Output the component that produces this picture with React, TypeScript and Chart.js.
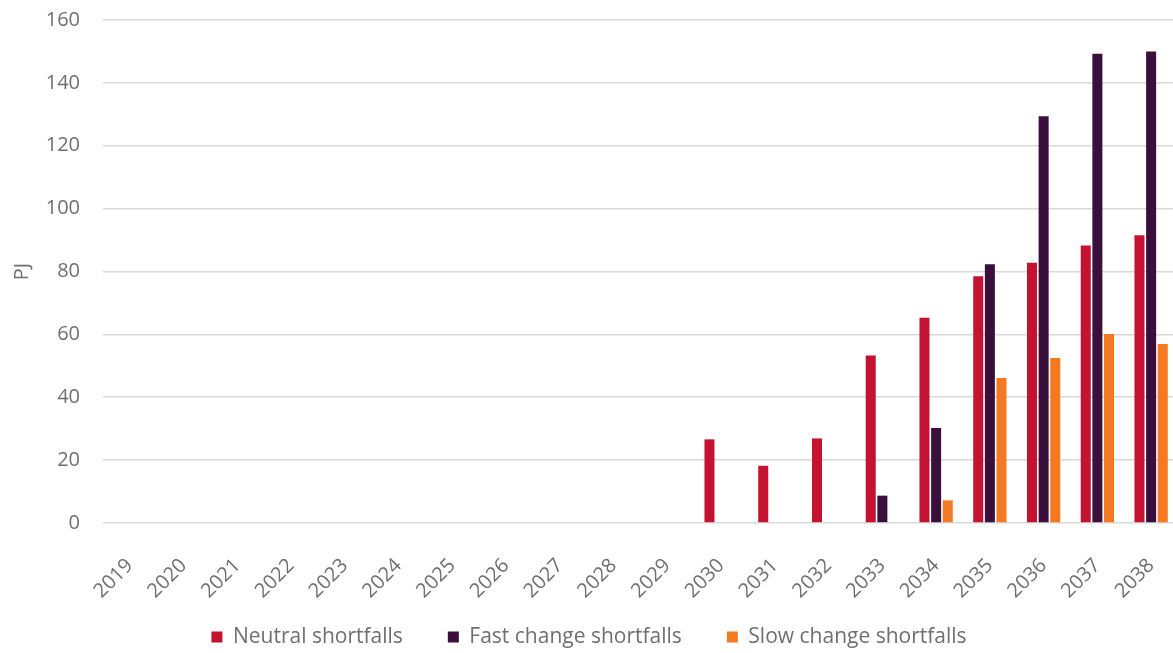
import React, { useEffect, useRef } from "react";
import { Chart, registerables } from "chart.js";

Chart.register(...registerables);

const years = ["2019","2020","2021","2022","2023","2024","2025","2026","2027","2028","2029","2030","2031","2032","2033","2034","2035","2036","2037","2038"];
const neutral = [0,0,0,0,0,0,0,0,0,0,0,26.6,18.2,26.9,53.3,65.3,78.5,82.8,88.3,91.5];
const fast = [0,0,0,0,0,0,0,0,0,0,0,0,0,0,8.7,30.2,82.3,129.4,149.3,150.0];
const slow = [0,0,0,0,0,0,0,0,0,0,0,0,0,0,0,7.2,46.1,52.5,60.1,56.9];
const seriesNames = ["Neutral shortfalls", "Fast change shortfalls", "Slow change shortfalls"];
const yMin = 0;
const yMax = 160;
const yStep = 20;

const FONT = "'Open Sans', 'Noto Sans', sans-serif";
const TEXT = "#6f6f6f";

const legendShift = {
  id: "legendShift",
  afterLayout(chart: any) {
    const l = chart.legend;
    if (l) {
      l.top -= 21.5;
      l.bottom -= 21.5;
    }
  },
};

export default function App() {
  const ref = useRef<HTMLCanvasElement | null>(null);
  useEffect(() => {
    if (!ref.current) return;
    const chart = new Chart(ref.current, {
      type: "bar",
      data: {
        labels: years,
        datasets: [
          { label: seriesNames[0], data: neutral, backgroundColor: "#C41230" },
          { label: seriesNames[1], data: fast, backgroundColor: "#3A0F3B" },
          { label: seriesNames[2], data: slow, backgroundColor: "#F47A22" },
        ],
      },
      plugins: [legendShift],
      options: {
        responsive: false,
        animation: false,
        layout: { padding: { top: 20, left: 0, right: 0, bottom: 0 } },
        datasets: { bar: { categoryPercentage: 0.65, barPercentage: 0.86 } },
        plugins: {
          tooltip: { enabled: false },
          legend: {
            position: "bottom",
            labels: {
              boxWidth: 11,
              boxHeight: 11,
              padding: 45,
              color: TEXT,
              font: { family: FONT, size: 21 },
            },
          },
        },
        scales: {
          x: {
            grid: { display: false, drawTicks: false },
            border: { display: false },
            ticks: {
              color: TEXT,
              font: { family: FONT, size: 20 },
              maxRotation: 45,
              minRotation: 45,
              autoSkip: false,
              padding: 31,
            },
            afterFit: (s: any) => { s.height = 80; s.paddingLeft = 0; s.paddingRight = 0; },
          },
          y: {
            min: yMin,
            max: yMax,
            grid: { color: "#d9d9d9", lineWidth: 1.6, drawTicks: false },
            border: { display: false },
            ticks: {
              stepSize: yStep,
              color: TEXT,
              font: { family: FONT, size: 20 },
              padding: 23,
            },
            title: {
              display: true,
              text: "PJ",
              color: TEXT,
              font: { family: FONT, size: 20 },
              padding: { top: 10, bottom: 0 },
            },
            afterFit: (s: any) => { s.width = 103; s.paddingTop = 0; s.paddingBottom = 0; },
          },
        },
      },
    });
    return () => chart.destroy();
  }, []);
  return (
    <div style={{ position: "fixed", left: 0, top: 0, width: 1173, height: 653, overflow: "hidden", background: "#fff" }}>
      <canvas ref={ref} width={1178} height={679} style={{ width: 1178, height: 679, display: "block" }} />
    </div>
  );
}
